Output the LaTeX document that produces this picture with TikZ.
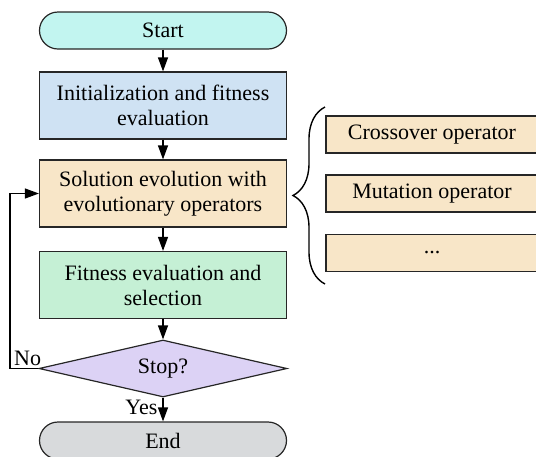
\documentclass[tikz,border=0pt]{standalone}
\usepackage{fontspec}
\setmainfont{Liberation Serif}
\usetikzlibrary{arrows.meta,shapes.geometric,decorations.pathreplacing}
\definecolor{startcol}{RGB}{194,245,240}
\definecolor{initcol}{RGB}{207,226,243}
\definecolor{solcol}{RGB}{248,230,200}
\definecolor{fitcol}{RGB}{197,240,213}
\definecolor{stopcol}{RGB}{220,210,245}
\definecolor{endcol}{RGB}{216,218,220}
\begin{document}
\begin{tikzpicture}[x=0.5pt, y=-0.5pt,
   every node/.style={font=\fontsize{11}{12.5}\selectfont},
   box/.style={draw=black!85, line width=0.6pt, minimum width=123.5pt, minimum height=33.5pt, align=center, inner sep=0pt},
   term/.style={draw=black!85, line width=0.6pt, rounded corners=9.25pt, minimum width=123.5pt, minimum height=18.5pt},
   opbox/.style={draw=black!85, line width=0.6pt, fill=solcol, minimum width=106pt, minimum height=18.5pt},
   decision/.style={diamond, draw=black!85, line width=0.6pt, fill=stopcol, aspect=4.35, minimum width=124pt, minimum height=28.5pt, inner sep=0pt},
   flow/.style={-{Triangle[length=7pt,width=5pt]}, line width=0.6pt}]
   \def\cx{163};
   \useasboundingbox (0,0) rectangle (536,456);
   \clip (0,0) rectangle (536,456);
   % main column
   \node[term, fill=startcol] (start) at (\cx, 30.5) {Start};
   \node[box, fill=initcol] (init) at (\cx, 105.5) {Initialization and fitness\\evaluation};
   \node[box, fill=solcol] (sol) at (\cx, 193.5) {Solution evolution with\\evolutionary operators};
   \node[box, fill=fitcol] (fit) at (\cx, 285) {Fitness evaluation and\\selection};
   \node[decision] (stop) at (\cx, 368.5) {Stop?};
   \node[term, fill=endcol] (end) at (\cx, 440.5) {End};
   % operators
   \node[opbox] (cross) at (432, 134.5) {Crossover operator};
   \node[opbox] (mut) at (432, 193.5) {Mutation operator};
   \node[opbox] (more) at (432, 253) {...};
   \coordinate (bracetop) at (325, 107);
   \coordinate (bracebot) at (325, 284);
   \coordinate (loop) at (10, 368.5);
   % arrows
   \draw[flow] (start) -- (init);
   \draw[flow] (init) -- (sol);
   \draw[flow] (sol) -- (fit);
   \draw[flow] (fit) -- (stop);
   \draw[flow] (stop) -- node[left, pos=0.4, inner sep=2.5pt] {Yes} (end);
   \draw[flow] (stop.west) -- node[above, pos=0.38, inner sep=1pt] {No} (loop) |- (sol.west);
   \draw[line width=0.7pt, decorate, decoration={brace, amplitude=16pt}] (bracebot) -- (bracetop);
\end{tikzpicture}
\end{document}
